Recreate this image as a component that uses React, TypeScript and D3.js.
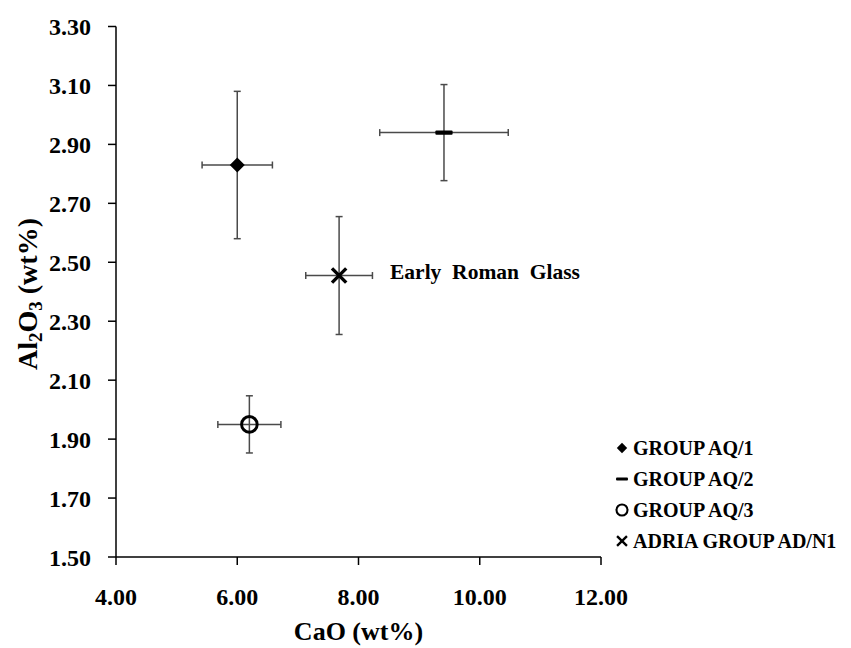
import React from "react";
import * as d3 from "d3";

// Group means and standard deviations: CaO (x) vs Al2O3 (y), wt%
const groups = ["GROUP AQ/1", "GROUP AQ/2", "GROUP AQ/3", "ADRIA GROUP AD/N1"];
const symbols = ["diamond", "dash", "circle", "cross"];
const caoMean = [6.0, 9.41, 6.2, 7.68];
const caoSd = [0.58, 1.06, 0.52, 0.55];
const al2o3Mean = [2.83, 2.94, 1.95, 2.455];
const al2o3Sd = [0.25, 0.163, 0.097, 0.2];

const xTicks = [4, 6, 8, 10, 12];
const yTicks = [1.5, 1.7, 1.9, 2.1, 2.3, 2.5, 2.7, 2.9, 3.1, 3.3];
const annotation = "Early  Roman  Glass";

const W = 851;
const H = 648;
const FONT = "'Liberation Serif', 'Times New Roman', serif";

function Marker({ kind, x, y, s }: { kind: string; x: number; y: number; s: number }) {
  if (kind === "diamond") {
    const p = d3.path();
    p.moveTo(x, y - s);
    p.lineTo(x + s, y);
    p.lineTo(x, y + s);
    p.lineTo(x - s, y);
    p.closePath();
    return <path d={p.toString()} fill="#000" />;
  }
  if (kind === "dash") {
    return <rect x={x - s * 1.15} y={y - s * 0.28} width={s * 2.3} height={s * 0.56} rx={1} fill="#000" />;
  }
  if (kind === "circle") {
    return <circle cx={x} cy={y} r={s} fill="none" stroke="#000" strokeWidth={s * 0.38} />;
  }
  const a = s * 0.95;
  return (
    <g stroke="#000" strokeWidth={s * 0.45} strokeLinecap="butt">
      <line x1={x - a} y1={y - a} x2={x + a} y2={y + a} />
      <line x1={x - a} y1={y + a} x2={x + a} y2={y - a} />
    </g>
  );
}

export default function App() {
  const x = d3.scaleLinear().domain([4, 12]).range([116, 601]);
  const y = d3.scaleLinear().domain([1.5, 3.3]).range([557, 26.5]);
  const cap = 3.5;
  const barColor = "#4a4a4a";
  const fmt = d3.format(".2f");

  return (
    <svg
      width={W}
      height={H}
      style={{ position: "absolute", left: 0, top: 0, background: "#fff" }}
      fontFamily={FONT}
      fontWeight="bold"
    >
      {/* axes */}
      <line x1={x(4)} y1={y(1.5)} x2={x(12)} y2={y(1.5)} stroke="#000" strokeWidth={1.5} />
      <line x1={x(4)} y1={y(1.5)} x2={x(4)} y2={y(3.3)} stroke="#000" strokeWidth={1.5} />
      {xTicks.map((t) => (
        <g key={"x" + t}>
          <line x1={x(t)} x2={x(t)} y1={y(1.5)} y2={y(1.5) + 8} stroke="#000" strokeWidth={1.5} />
          <text x={x(t)} y={605} textAnchor="middle" fontSize={24}>
            {fmt(t)}
          </text>
        </g>
      ))}
      {yTicks.map((t) => (
        <g key={"y" + t}>
          <line x1={x(4) - 8} x2={x(4)} y1={y(t)} y2={y(t)} stroke="#000" strokeWidth={1.5} />
          <text x={91} y={y(t) + 8.5} textAnchor="end" fontSize={24}>
            {fmt(t)}
          </text>
        </g>
      ))}

      {/* axis titles */}
      <text x={(x(4) + x(12)) / 2} y={640} textAnchor="middle" fontSize={26}>
        CaO (wt%)
      </text>
      <text transform={`translate(37, 294) rotate(-90)`} textAnchor="middle" fontSize={28}>
        Al<tspan fontSize={19} dy={5}>2</tspan>
        <tspan dy={-5}>O</tspan>
        <tspan fontSize={19} dy={5}>3</tspan>
        <tspan dy={-5}> (wt%)</tspan>
      </text>

      {/* error bars and means */}
      {groups.map((g, i) => {
        const cx = x(caoMean[i]);
        const cy = y(al2o3Mean[i]);
        const x0 = x(caoMean[i] - caoSd[i]);
        const x1 = x(caoMean[i] + caoSd[i]);
        const y0 = y(al2o3Mean[i] - al2o3Sd[i]);
        const y1 = y(al2o3Mean[i] + al2o3Sd[i]);
        return (
          <g key={g}>
            <g stroke={barColor} strokeWidth={1.5}>
              <line x1={x0} x2={x1} y1={cy} y2={cy} />
              <line x1={x0} x2={x0} y1={cy - cap} y2={cy + cap} />
              <line x1={x1} x2={x1} y1={cy - cap} y2={cy + cap} />
              <line x1={cx} x2={cx} y1={y0} y2={y1} />
              <line x1={cx - cap} x2={cx + cap} y1={y0} y2={y0} />
              <line x1={cx - cap} x2={cx + cap} y1={y1} y2={y1} />
            </g>
            <Marker kind={symbols[i]} x={cx} y={cy} s={symbols[i] === "circle" ? 7.8 : 7.5} />
          </g>
        );
      })}

      <text x={390} y={279} fontSize={21.5} style={{ whiteSpace: "pre" }}>
        {annotation}
      </text>

      {/* legend */}
      {groups.map((g, i) => {
        const ly = 455 + i * 31;
        return (
          <g key={"leg" + g}>
            <Marker kind={symbols[i]} x={622} y={ly - 7} s={symbols[i] === "circle" ? 5.5 : 5.2} />
            <text x={633} y={ly} fontSize={20}>
              {g}
            </text>
          </g>
        );
      })}
    </svg>
  );
}
